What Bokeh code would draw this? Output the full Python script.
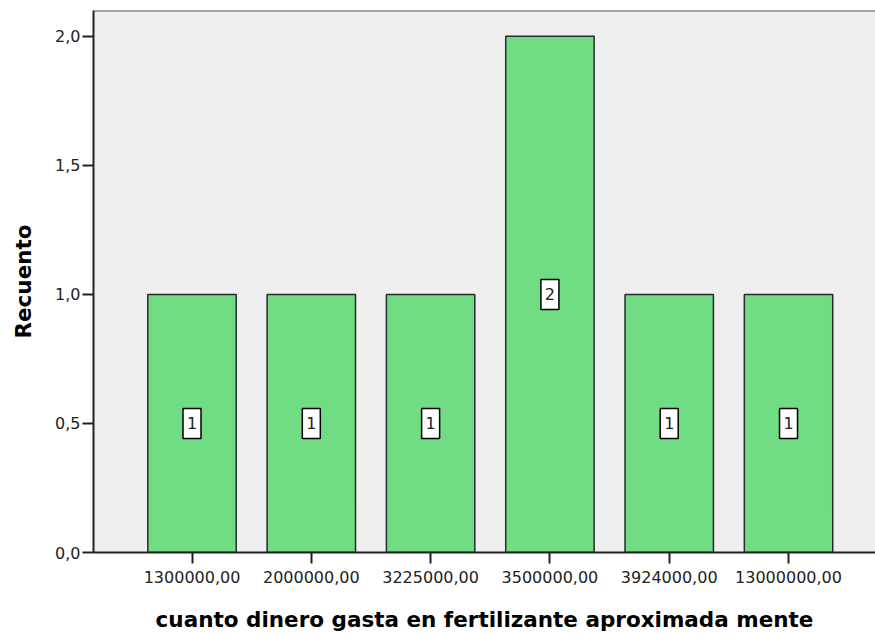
from bokeh.plotting import figure
from bokeh.models import FixedTicker, CustomJSTickFormatter, Range1d, Span, ColumnDataSource
from bokeh.core.properties import value
from bokeh.embed import file_html
from bokeh.resources import INLINE

# Data
categories = ["1300000,00", "2000000,00", "3225000,00", "3500000,00", "3924000,00", "13000000,00"]
counts = [1, 1, 1, 2, 1, 1]
y_ticks = [0.0, 0.5, 1.0, 1.5, 2.0]

idx = list(range(len(categories)))
src = ColumnDataSource(dict(
    x=idx,
    top=counts,
    mid=[c / 2 for c in counts],
    lab=[str(c) for c in counts],
))

p = figure(width=875, height=634, output_backend="svg", toolbar_location=None,
           x_range=Range1d(-0.8257, 5.729), y_range=Range1d(0, 2.10),
           min_border_left=93, min_border_right=0, min_border_top=10, min_border_bottom=81)

p.background_fill_color = "#EFEFEF"
p.border_fill_color = "white"
p.outline_line_color = None
p.xgrid.visible = False
p.ygrid.visible = False

p.vbar(x="x", top="top", bottom=0, width=0.741, source=src,
       fill_color="#70DC84", line_color="#2A2A2A", line_width=1.5)

p.rect(x="x", y="mid", width=18, height=30, width_units="screen", height_units="screen",
       source=src, fill_color="white", line_color="black", line_width=1.5)
p.text(x="x", y="mid", text="lab", source=src, text_align="center", text_baseline="middle",
       text_font=value("DejaVu Sans"), text_font_size="16px", text_color="#222222")

top_line = Span(location=2.10, dimension="width", line_color="#555555", line_width=2)
p.add_layout(top_line)

# axes
xa = p.xaxis[0]
xa.ticker = FixedTicker(ticks=idx)
xa.major_label_overrides = {i: c for i, c in enumerate(categories)}
xa.minor_tick_line_color = None
xa.major_tick_out = 11
xa.major_tick_in = 0
xa.major_label_standoff = 7
xa.major_label_text_font = "DejaVu Sans"
xa.major_label_text_font_size = "16px"
xa.major_label_text_color = "#222222"
xa.axis_line_color = "#222222"
xa.axis_line_width = 2
xa.major_tick_line_color = "#222222"
xa.major_tick_line_width = 2
xa.axis_label = "cuanto dinero gasta en fertilizante aproximada mente"
xa.axis_label_text_font = "DejaVu Sans"
xa.axis_label_text_font_style = "bold"
xa.axis_label_text_font_size = "21.5px"
xa.axis_label_text_color = "black"
xa.axis_label_standoff = 21

ya = p.yaxis[0]
ya.ticker = FixedTicker(ticks=y_ticks)
ya.formatter = CustomJSTickFormatter(code="return tick.toFixed(1).replace('.', ',');")
ya.minor_tick_line_color = None
ya.major_tick_out = 11
ya.major_tick_in = 0
ya.major_label_standoff = 2
ya.major_label_text_font = "DejaVu Sans"
ya.major_label_text_font_size = "16px"
ya.major_label_text_color = "#222222"
ya.axis_line_color = "#222222"
ya.axis_line_width = 2
ya.major_tick_line_color = "#222222"
ya.major_tick_line_width = 2
ya.axis_label = "Recuento"
ya.axis_label_text_font = "DejaVu Sans"
ya.axis_label_text_font_style = "bold"
ya.axis_label_text_font_size = "21.5px"
ya.axis_label_text_color = "black"
ya.axis_label_standoff = 16

open("out.html", "w").write(file_html(p, INLINE))
